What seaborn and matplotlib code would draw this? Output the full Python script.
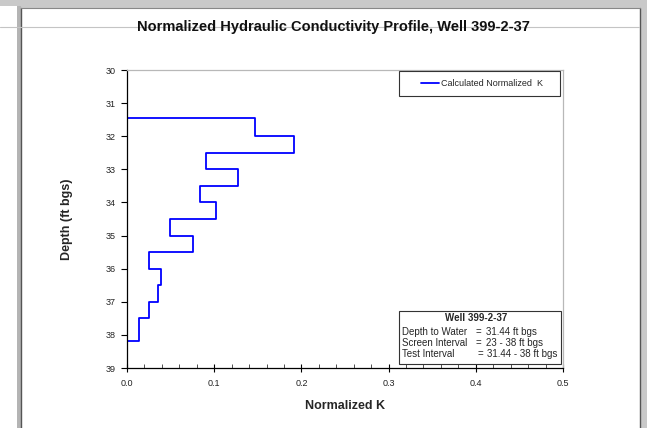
import numpy as np
import pandas as pd
import seaborn as sns
import matplotlib
matplotlib.use("Agg")
import matplotlib.pyplot as plt
from matplotlib.patches import Rectangle
from matplotlib.lines import Line2D

# Profile data: depth interval edges (ft bgs) and normalized K per interval
depth_edges = [31.44, 32.0, 32.5, 33.0, 33.5, 34.0, 34.5, 35.0, 35.5, 36.0, 36.5, 37.0, 37.5, 38.18]
norm_k = [0.147, 0.192, 0.0905, 0.127, 0.0833, 0.1015, 0.049, 0.0757, 0.0251, 0.0388, 0.035, 0.0251, 0.0133]

x_ticks = [0.0, 0.1, 0.2, 0.3, 0.4, 0.5]
x_tick_labels = ["0.0", "0.1", "0.2", "0.3", "0.4", "0.5"]
y_ticks = [30, 31, 32, 33, 34, 35, 36, 37, 38, 39]

title = "Normalized Hydraulic Conductivity Profile, Well 399-2-37"
x_label = "Normalized K"
y_label = "Depth (ft bgs)"
series_label = "Calculated Normalized  K"

info_title = "Well 399-2-37"
info_names = ["Depth to Water", "Screen Interval", "Test Interval"]
info_values = ["31.44 ft bgs", "23 - 38 ft bgs", "31.44 - 38 ft bgs"]

# Build the step outline of the profile from the interval table
edges = np.asarray(depth_edges)
kv = np.asarray(norm_k)
path_x = np.concatenate([[0.0], np.repeat(kv, 2), [0.0]])
path_y = np.concatenate([[edges[0]], np.column_stack([edges[:-1], edges[1:]]).ravel(), [edges[-1]]])
profile = pd.DataFrame({"k": path_x, "depth": path_y})

sns.set_theme(style="white")
plt.rcParams["font.family"] = ["Liberation Sans", "DejaVu Sans"]

W, H = 647, 428
fig = plt.figure(figsize=(W / 100, H / 100), dpi=100)
fig.patch.set_facecolor("#c9c9c9")


def fx(px):
    return px / W


def fy(py):
    return 1 - py / H


# Window panels behind the chart
def panel(x0, y0, x1, y1, color):
    fig.patches.append(Rectangle((fx(x0), fy(y1)), fx(x1) - fx(x0), fy(y0) - fy(y1),
                                 transform=fig.transFigure, facecolor=color, edgecolor="none", zorder=-3))


def rule(x0, y0, x1, y1, color, lw):
    fig.lines.append(Line2D([fx(x0), fx(x1)], [fy(y0), fy(y1)], transform=fig.transFigure,
                            color=color, lw=lw, zorder=-2))


panel(0, 6, 17, H, "white")
panel(16.5, 6, 21, H, "#b4b4b4")
panel(21, 7.5, 639.5, H, "white")
rule(21, 7.5, 21, H, "#555555", 1.0)
rule(639.5, 7.5, 639.5, H, "#555555", 1.0)
rule(21, 7.5, 639.5, 7.5, "#888888", 0.8)
rule(0, 27, 639, 27, "#c4c4c4", 0.8)

ax = fig.add_axes([fx(127), fy(368), (563 - 127) / W, (368 - 70) / H])
ax.set_facecolor("white")

sns.lineplot(data=profile, x="k", y="depth", sort=False, estimator=None,
             color="#0000ff", linewidth=1.3, ax=ax, legend=False)

ax.set_xlim(0, 0.5)
ax.set_ylim(39, 30)
ax.set_xticks(x_ticks)
ax.set_xticklabels(x_tick_labels)
ax.set_xticks(np.arange(0, 0.5001, 0.02), minor=True)
ax.set_yticks(y_ticks)

ax.tick_params(axis="x", which="major", direction="inout", length=6, width=0.8, colors="black",
               labelsize=6.5, labelcolor="#222222", pad=5, bottom=True)
ax.tick_params(axis="x", which="minor", direction="in", length=3, width=0.6, colors="#333333", bottom=True)
ax.tick_params(axis="y", which="major", direction="out", length=4, width=0.8, colors="black",
               labelsize=6.5, labelcolor="#222222", pad=4, left=True)

for side in ("left", "bottom"):
    ax.spines[side].set_color("black")
    ax.spines[side].set_linewidth(0.9)
for side in ("top", "right"):
    ax.spines[side].set_color("#b8b8b8")
    ax.spines[side].set_linewidth(0.9)

ax.set_xlabel(x_label, fontsize=9, fontweight="bold", va="center")
ax.xaxis.set_label_coords(0.5, (368 - 406) / 298)
ax.set_ylabel(y_label, fontsize=9, fontweight="bold", va="center")
ax.yaxis.set_label_coords((67 - 127) / 436, 0.5)

fig.text(fx(333.5), fy(27), title, ha="center", va="center", fontsize=10.5, fontweight="bold",
         color="#111111", zorder=5)


def ax_px_x(px):
    return (px - 127) / 436


def ax_px_y(py):
    return (368 - py) / 298


# Legend with its own rectangular frame
ax.add_patch(Rectangle((ax_px_x(399), ax_px_y(96)), ax_px_x(560) - ax_px_x(399), ax_px_y(71) - ax_px_y(96),
                       transform=ax.transAxes, facecolor="white", edgecolor="#333333", lw=0.8, zorder=4))
leg = ax.legend(handles=[Line2D([], [], color="#0000ff", lw=1.3)], labels=[series_label],
                loc="center left", bbox_to_anchor=(ax_px_x(421), ax_px_y(84)), frameon=False,
                fontsize=6.5, handlelength=2.0, handletextpad=0.25, borderpad=0, borderaxespad=0)
leg.set_zorder(5)

# Well information box
ax.add_patch(Rectangle((ax_px_x(399), ax_px_y(364)), ax_px_x(561) - ax_px_x(399), ax_px_y(311) - ax_px_y(364),
                       transform=ax.transAxes, facecolor="white", edgecolor="#333333", lw=0.8, zorder=4))
fig.text(fx(476), fy(318), info_title, ha="center", va="center", fontsize=7, fontweight="bold", zorder=6)
for i, (name, val) in enumerate(zip(info_names, info_values)):
    yy = [332, 343, 354][i]
    fig.text(fx(401.5), fy(yy), name, ha="left", va="center", fontsize=7, zorder=6)
    fig.text(fx([476, 476, 478][i]), fy(yy), "=", ha="left", va="center", fontsize=7, zorder=6)
    fig.text(fx([486, 486, 487][i]), fy(yy), val, ha="left", va="center", fontsize=7, zorder=6)

fig.savefig("out.png", dpi=100, facecolor=fig.get_facecolor())
